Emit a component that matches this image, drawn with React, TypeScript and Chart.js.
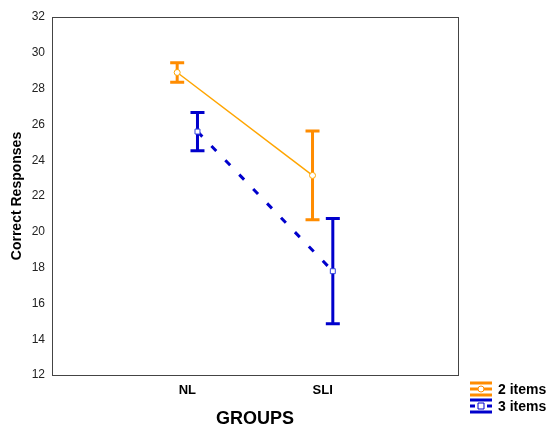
import React, { useEffect, useRef } from "react";
import { Chart, registerables } from "chart.js";

Chart.register(...registerables);

const categories = ["NL", "SLI"];
const seriesNames = ["2 items", "3 items"];
const means2 = [28.9, 23.15];
const errs2 = [0.55, 2.48];
const means3 = [25.6, 17.8];
const errs3 = [1.07, 2.94];
const yTicks = [12, 14, 16, 18, 20, 22, 24, 26, 28, 30, 32];

const ORANGE = "#FF8C00";
const ORANGE_LINE = "#FFA500";
const BLUE = "#0000CC";
const OFFSET = 0.075;

const errorBarPlugin = {
  id: "errorBars",
  beforeDatasetsDraw(chart: any) {
    const { ctx, scales } = chart;
    const xs = scales.x, ys = scales.y;
    chart.data.datasets.forEach((ds: any) => {
      ctx.save();
      ctx.strokeStyle = ds.errColor;
      ctx.lineWidth = 3;
      ds.data.forEach((p: any, i: number) => {
        const x = xs.getPixelForValue(p.x);
        const yt = ys.getPixelForValue(p.y + ds.errs[i]);
        const yb = ys.getPixelForValue(p.y - ds.errs[i]);
        ctx.beginPath();
        ctx.moveTo(x, yt);
        ctx.lineTo(x, yb);
        ctx.moveTo(x - 7, yt);
        ctx.lineTo(x + 7, yt);
        ctx.moveTo(x - 7, yb);
        ctx.lineTo(x + 7, yb);
        ctx.stroke();
      });
      ctx.restore();
    });
  },
  afterDraw(chart: any) {
    const { ctx, chartArea: a } = chart;
    ctx.save();
    ctx.strokeStyle = "#444";
    ctx.lineWidth = 1;
    ctx.strokeRect(Math.round(a.left) + 0.5, Math.round(a.top) + 0.5, Math.round(a.right - a.left), Math.round(a.bottom - a.top));
    // legend
    const items = [
      { y: 389, color: ORANGE, dash: false, marker: "circle", label: seriesNames[0] },
      { y: 406, color: BLUE, dash: true, marker: "square", label: seriesNames[1] },
    ];
    items.forEach((it) => {
      const x0 = 470, x1 = 492, xm = 481;
      ctx.strokeStyle = it.color;
      ctx.lineWidth = 3;
      ctx.beginPath();
      ctx.moveTo(x0, it.y - 6);
      ctx.lineTo(x1, it.y - 6);
      ctx.moveTo(x0, it.y + 6);
      ctx.lineTo(x1, it.y + 6);
      ctx.stroke();
      ctx.lineWidth = 3;
      ctx.beginPath();
      if (it.dash) {
        ctx.moveTo(x0, it.y); ctx.lineTo(x0 + 5, it.y);
        ctx.moveTo(x1 - 5, it.y); ctx.lineTo(x1, it.y);
      } else {
        ctx.moveTo(x0, it.y); ctx.lineTo(x1, it.y);
      }
      ctx.stroke();
      ctx.fillStyle = "#fff";
      ctx.lineWidth = 1;
      ctx.beginPath();
      if (it.marker === "circle") {
        ctx.arc(xm, it.y, 3, 0, Math.PI * 2);
      } else {
        ctx.rect(xm - 3, it.y - 3, 6, 6);
      }
      ctx.fill();
      ctx.stroke();
      ctx.fillStyle = "#000";
      ctx.font = "bold 14px 'Liberation Sans', Arial, sans-serif";
      ctx.textBaseline = "middle";
      ctx.textAlign = "left";
      ctx.fillText(it.label, 498, it.y + 1);
    });
    ctx.restore();
  },
};

export default function App() {
  const ref = useRef<HTMLCanvasElement>(null);
  useEffect(() => {
    if (!ref.current) return;
    const chart = new Chart(ref.current, {
      type: "line",
      data: {
        datasets: [
          {
            label: seriesNames[0],
            data: means2.map((v, i) => ({ x: i + 1 - OFFSET, y: v })),
            errs: errs2,
            errColor: ORANGE,
            borderColor: ORANGE_LINE,
            borderWidth: 1.5,
            pointStyle: "circle",
            pointRadius: 3,
            pointBackgroundColor: "#fff",
            pointBorderColor: ORANGE_LINE,
            pointBorderWidth: 1,
            fill: false,
          } as any,
          {
            label: seriesNames[1],
            data: means3.map((v, i) => ({ x: i + 1 + OFFSET, y: v })),
            errs: errs3,
            errColor: BLUE,
            borderColor: BLUE,
            borderWidth: 3,
            borderDash: [7, 13],
            pointStyle: "rect",
            pointRadius: 3.5,
            pointBackgroundColor: "#fff",
            pointBorderColor: "#3344dd",
            pointBorderWidth: 1,
            fill: false,
          } as any,
        ],
      },
      options: {
        animation: false,
        responsive: false,
        maintainAspectRatio: false,
        layout: { padding: { left: 9, right: 90, top: 17, bottom: 0 } },
        plugins: { legend: { display: false }, tooltip: { enabled: false } },
        scales: {
          x: {
            type: "linear",
            min: 0,
            max: 3,
            grid: { display: false, drawTicks: false },
            border: { display: false },
            afterBuildTicks: (s: any) => {
              s.ticks = categories.map((_, i) => ({ value: i + 1 }));
            },
            afterFit: (s: any) => { s.height = 51; },
            ticks: {
              autoSkip: false,
              maxRotation: 0,
              padding: 8,
              color: "#000",
              font: { family: "'Liberation Sans', Arial, sans-serif", size: 13, weight: "bold" },
              callback: (v: any) => categories[Math.round(v) - 1] ?? "",
            },
            title: {
              display: true,
              text: "GROUPS",
              color: "#000",
              padding: { top: 8, bottom: -4 },
              font: { family: "'Liberation Sans', Arial, sans-serif", size: 18, weight: "bold" },
            },
          },
          y: {
            type: "linear",
            min: 12,
            max: 32,
            grid: { display: false, drawTicks: false },
            border: { display: false },
            afterBuildTicks: (s: any) => {
              s.ticks = yTicks.map((v) => ({ value: v }));
            },
            afterFit: (s: any) => { s.width = 43; },
            ticks: {
              padding: 7,
              color: "#222",
              font: { family: "'Liberation Sans', Arial, sans-serif", size: 12 },
            },
            title: {
              display: true,
              text: "Correct Responses",
              color: "#000",
              padding: { top: 0, bottom: 2 },
              font: { family: "'Liberation Sans', Arial, sans-serif", size: 14, weight: "bold" },
            },
          },
        },
      },
      plugins: [errorBarPlugin],
    });
    return () => chart.destroy();
  }, []);
  return (
    <div style={{ position: "fixed", left: 0, top: 0, width: 548, height: 426, background: "#fff" }}>
      <canvas ref={ref} width={548} height={426} style={{ width: 548, height: 426 }} />
    </div>
  );
}
